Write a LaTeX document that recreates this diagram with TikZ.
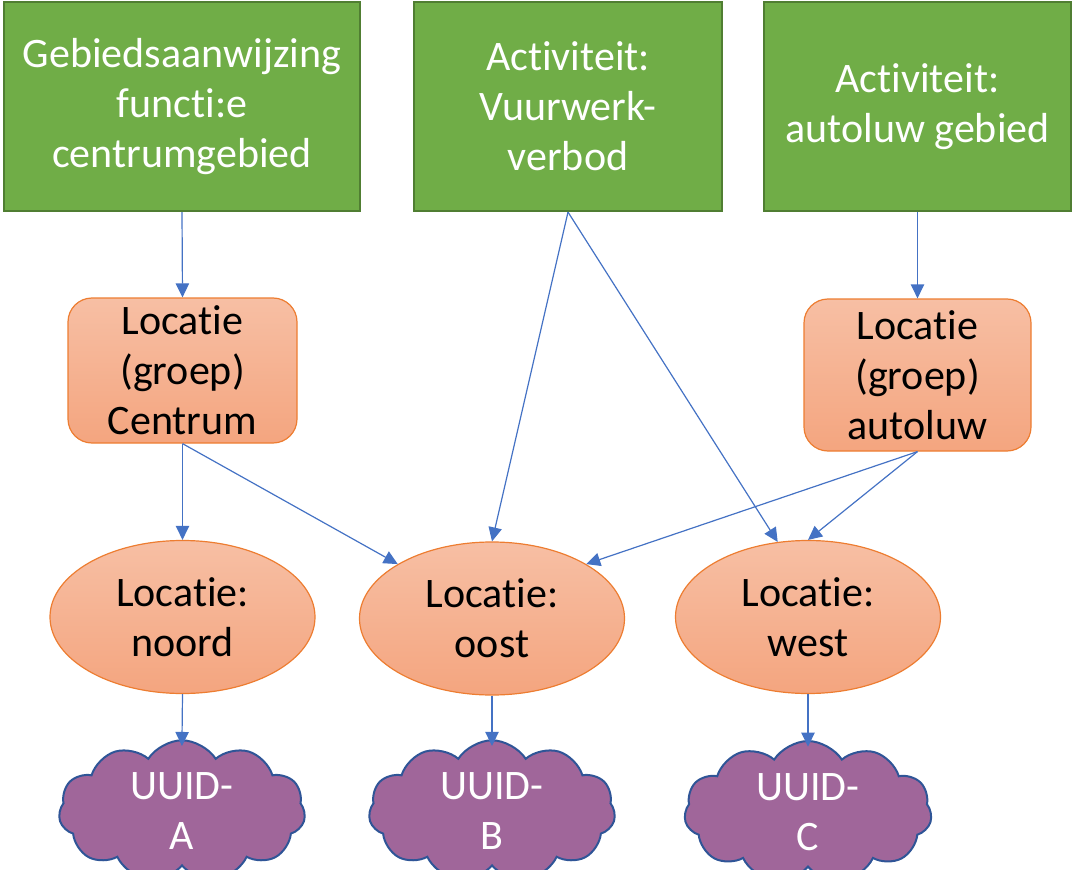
\documentclass[tikz,border=0pt]{standalone}
\usepackage{fontspec}
\setmainfont{Carlito}[RawFeature={-liga;-clig;-calt;-dlig}]
\usetikzlibrary{shapes.symbols,shapes.geometric,arrows.meta}
\definecolor{greenfill}{HTML}{70AD47}
\definecolor{greenline}{HTML}{507E32}
\definecolor{orangeline}{HTML}{ED7D31}
\definecolor{orangetop}{HTML}{F7BFA4}
\definecolor{orangebot}{HTML}{F4A57F}
\definecolor{cloudfill}{HTML}{A0669A}
\definecolor{cloudline}{HTML}{2F5597}
\definecolor{arrowblue}{HTML}{4472C4}
\begin{document}
\begin{tikzpicture}[x=0.75pt,y=-0.75pt,
  every node/.style={font=\fontsize{31.5}{37.5}\selectfont, align=center, inner sep=0pt},
  topbox/.style={draw=greenline, line width=1.6pt, fill=greenfill, text=white,
    minimum height=156.75pt},
  groupbox/.style={draw=orangeline, line width=0.9pt, rounded corners=18pt,
    top color=orangetop, bottom color=orangebot, text=black},
  spot/.style={ellipse, draw=orangeline, line width=0.9pt,
    top color=orangetop, bottom color=orangebot, text=black,
    minimum width=198.75pt, minimum height=114.75pt},
  uuid/.style={cloud, cloud puffs=11, cloud puff arc=115, aspect=2.2,
    draw=cloudline, line width=1.5pt, fill=cloudfill, text=white,
    minimum width=180pt, minimum height=82pt},
  link/.style={draw=arrowblue, line width=0.9pt,
    -{Triangle[length=10.5pt,width=10pt]}}]
\useasboundingbox (0,0) rectangle (1075,870);

% top row: regels
\node[topbox, minimum width=267pt] (g1) at (182,106.5) {Gebiedsaanwijzing\\functi:e\\centrumgebied};
\node[topbox, minimum width=231pt] (g2) at (568,106.5) {Activiteit:\\Vuurwerk-\\verbod};
\node[topbox, minimum width=230.25pt] (g3) at (917.5,106.5) {Activiteit:\\autoluw gebied};

% location groups
\node[groupbox, minimum width=171.75pt, minimum height=108.75pt] (r1) at (182.5,370.5) {Locatie\\(groep)\\Centrum};
\node[groupbox, minimum width=170.25pt, minimum height=114pt] (r2) at (917.5,375) {Locatie\\(groep)\\autoluw};

% single locations
\node[spot] (noord) at (182.5,617) {Locatie:\\noord};
\node[spot] (oost) at (492,618.5) {Locatie:\\oost};
\node[spot] (west) at (808,617) {Locatie:\\west};

% geometries
\node[uuid] (ca) at (182,811) {UUID-\\A};
\node[uuid] (cb) at (492,811) {UUID-\\B};
\node[uuid] (cc) at (808,812) {UUID-\\C};

% connectors
\draw[link] (g1.south) -- (r1.north);
\draw[link] (g2.south) -- (oost.north);
\draw[link] (g2.south) -- (west.112);
\draw[link] (g3.south) -- (r2.north);
\draw[link] (r1.south) -- (noord.north);
\draw[link] (r1.south) -- (oost.150);
\draw[link] (r2.south) -- (oost.30);
\draw[link] (r2.south) -- (west.north);
\draw[link, shorten >=-5pt] (noord.south) -- (ca.north);
\draw[link, shorten >=-5pt] (oost.south) -- (cb.north);
\draw[link, shorten >=-5pt] (west.south) -- (cc.north);
\end{tikzpicture}
\end{document}
